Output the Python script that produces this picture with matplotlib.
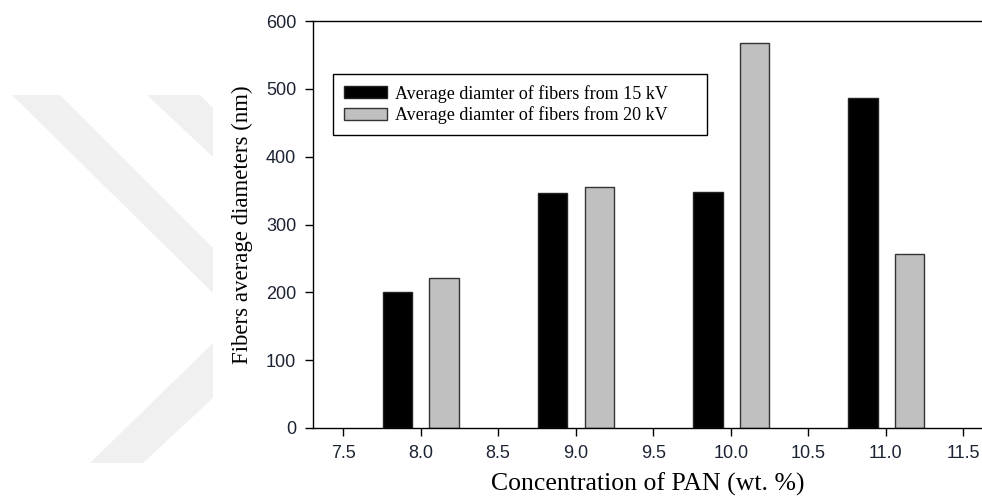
import matplotlib
matplotlib.use('Agg')
import matplotlib.pyplot as plt
from matplotlib.patches import Polygon
import numpy as np

# data
conc = [8.0, 9.0, 10.0, 11.0]
d_15kv = [200, 347, 348, 487]
d_20kv = [221, 356, 567, 256]
labels = ['Average diamter of fibers from 15 kV', 'Average diamter of fibers from 20 kV']
xticks = [7.5, 8.0, 8.5, 9.0, 9.5, 10.0, 10.5, 11.0, 11.5]
yticks = [0, 100, 200, 300, 400, 500, 600]

W, H = 982, 497
fig = plt.figure(figsize=(W / 100, H / 100), dpi=100)

# faint watermark on the left side
wm = [[(12, 95), (60, 95), (213, 248), (213, 293)],
      [(147, 95), (200, 95), (213, 108), (213, 157)],
      [(90, 463), (143, 463), (213, 398), (213, 343)]]
for pts in wm:
    fig.patches.append(Polygon([(x / W, 1 - y / H) for x, y in pts], closed=True,
                               transform=fig.transFigure, facecolor='#f0f0f0',
                               edgecolor='none', zorder=0))

ax = fig.add_axes([313 / W, 1 - 428 / H, (W - 313) / W, (428 - 21) / H])

x = np.array(conc)
w = 0.19
ax.bar(x - 0.148, d_15kv, width=w, color='black', edgecolor='#222222', linewidth=1, label=labels[0])
ax.bar(x + 0.152, d_20kv, width=w, color='#c0c0c0', edgecolor='#333333', linewidth=1, label=labels[1])

ax.set_xlim(7.306, 11.62)
ax.set_ylim(0, 600)
ax.set_xticks(xticks)
ax.set_xticklabels(['%.1f' % t for t in xticks])
ax.set_yticks(yticks)
ax.tick_params(direction='out', length=6, width=1, colors='black', labelcolor='#1c2333',
               labelsize=13, pad=6)
for lab in ax.get_xticklabels() + ax.get_yticklabels():
    lab.set_family('Liberation Sans')
ax.spines['right'].set_visible(False)
for s in ['left', 'bottom', 'top']:
    ax.spines[s].set_linewidth(1)

ax.set_xlabel('Concentration of PAN (wt. %)', family='Liberation Serif', fontsize=18.5, labelpad=8)
ax.set_ylabel('Fibers average diameters (nm)', family='Liberation Serif', fontsize=16.5, labelpad=9)

# legend box stretched to the width seen in the reference
leg = ax.legend(loc='upper left', bbox_to_anchor=(0.03, 0.87, 0.559, 0), mode='expand',
                borderaxespad=0, fancybox=False, edgecolor='black', framealpha=1,
                prop={'family': 'Liberation Serif', 'size': 13},
                handlelength=2.4, handleheight=0.62, borderpad=0.6, labelspacing=0.2,
                handletextpad=0.45)
leg.get_frame().set_linewidth(1)

fig.savefig('out.png', dpi=100)
